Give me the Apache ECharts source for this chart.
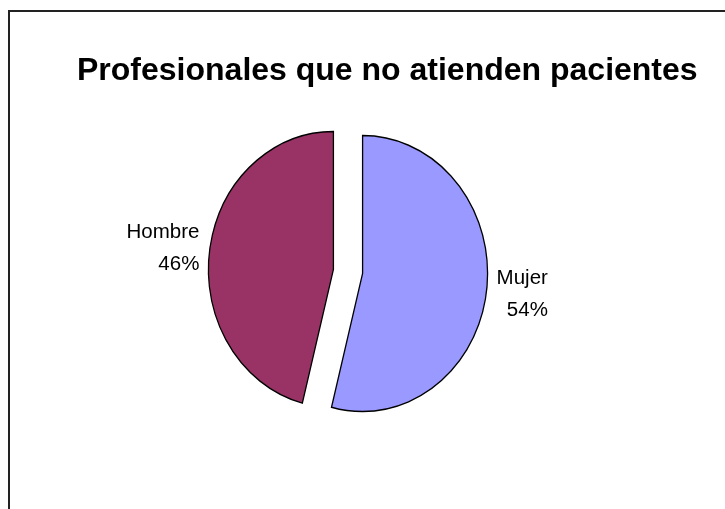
<!DOCTYPE html>
<html>
<head>
<meta charset="utf-8">
<script src="https://cdn.jsdelivr.net/npm/echarts@6/dist/echarts.min.js"></script>
<style>
  html, body { margin: 0; padding: 0; background: #fff; }
  #chart { width: 725px; height: 509px; }
</style>
</head>
<body>
<div id="chart"></div>
<script>
// Slice data: share of professionals not seeing patients, by sex
const categories = ['Mujer', 'Hombre'];
const shares = [54, 46];
const sliceColors = ['#9999FF', '#993366'];
const titleText = 'Profesionales que no atienden pacientes';

// Pie layout (drawn as a slightly tall ellipse, slices pulled apart)
const CX = 348, CY = 271.5;
const RX = 125, RY = 138;
const EXPLODE = 14.7;
const LABEL_GAP = 10;       // horizontal gap between rim and label block
const LABEL_RADIAL_Y = 30;  // extra vertical reach of the label anchor
const LABEL_FONT = '20.5px "Liberation Sans", Arial, sans-serif';
const LABEL_LINE = 32;

const measureCtx = document.createElement('canvas').getContext('2d');
function textWidth(str) {
  measureCtx.font = LABEL_FONT;
  return measureCtx.measureText(str).width;
}

const total = shares.reduce((a, b) => a + b, 0);

function renderSlice(params, api) {
  const i = params.dataIndex;
  let before = 0;
  for (let j = 0; j < i; j++) before += shares[j];
  const value = api.value(0);
  const a0 = -Math.PI / 2 + before / total * Math.PI * 2;
  const a1 = a0 + value / total * Math.PI * 2;
  const mid = (a0 + a1) / 2;
  const sy = RY / RX;
  const cx = CX + EXPLODE * Math.cos(mid);
  const cy = CY + EXPLODE * Math.sin(mid) * sy;

  // label anchored just outside the rim along the slice bisector
  const px = cx + RX * Math.cos(mid);
  const py = cy + (RY + LABEL_RADIAL_Y) * Math.sin(mid);
  const pct = Math.round(value / total * 100) + '%';
  const name = categories[i];
  const blockW = Math.max(textWidth(name), textWidth(pct));
  const onRight = Math.cos(mid) >= 0;
  const lx = onRight ? px + LABEL_GAP + blockW : px - LABEL_GAP;

  return {
    type: 'group',
    children: [
      {
        type: 'sector',
        x: cx,
        y: cy,
        scaleY: sy,
        shape: { cx: 0, cy: 0, r0: 0, r: RX, startAngle: a0, endAngle: a1, clockwise: true },
        style: { fill: sliceColors[i], stroke: '#000', lineWidth: 1.3, strokeNoScale: true }
      },
      {
        type: 'text',
        x: lx,
        y: py,
        style: {
          text: name + '\n' + pct,
          font: LABEL_FONT,
          fill: '#000',
          align: 'right',
          verticalAlign: 'middle',
          lineHeight: LABEL_LINE
        }
      }
    ]
  };
}

const chart = echarts.init(document.getElementById('chart'), null, { renderer: 'canvas' });
chart.setOption({
  backgroundColor: '#fff',
  animation: false,
  title: {
    text: titleText,
    left: 77,
    top: 55,
    padding: 0,
    textStyle: {
      fontFamily: '"Liberation Sans", Arial, sans-serif',
      fontWeight: 'bold',
      fontSize: 32,
      color: '#000'
    }
  },
  graphic: [
    {
      type: 'rect',
      shape: { x: 9, y: 11, width: 900, height: 700 },
      style: { fill: 'none', stroke: '#222', lineWidth: 2 },
      silent: true
    }
  ],
  series: [
    {
      type: 'custom',
      coordinateSystem: 'none',
      renderItem: renderSlice,
      data: shares.map((v, i) => ({ name: categories[i], value: [v] }))
    }
  ]
});
</script>
</body>
</html>
